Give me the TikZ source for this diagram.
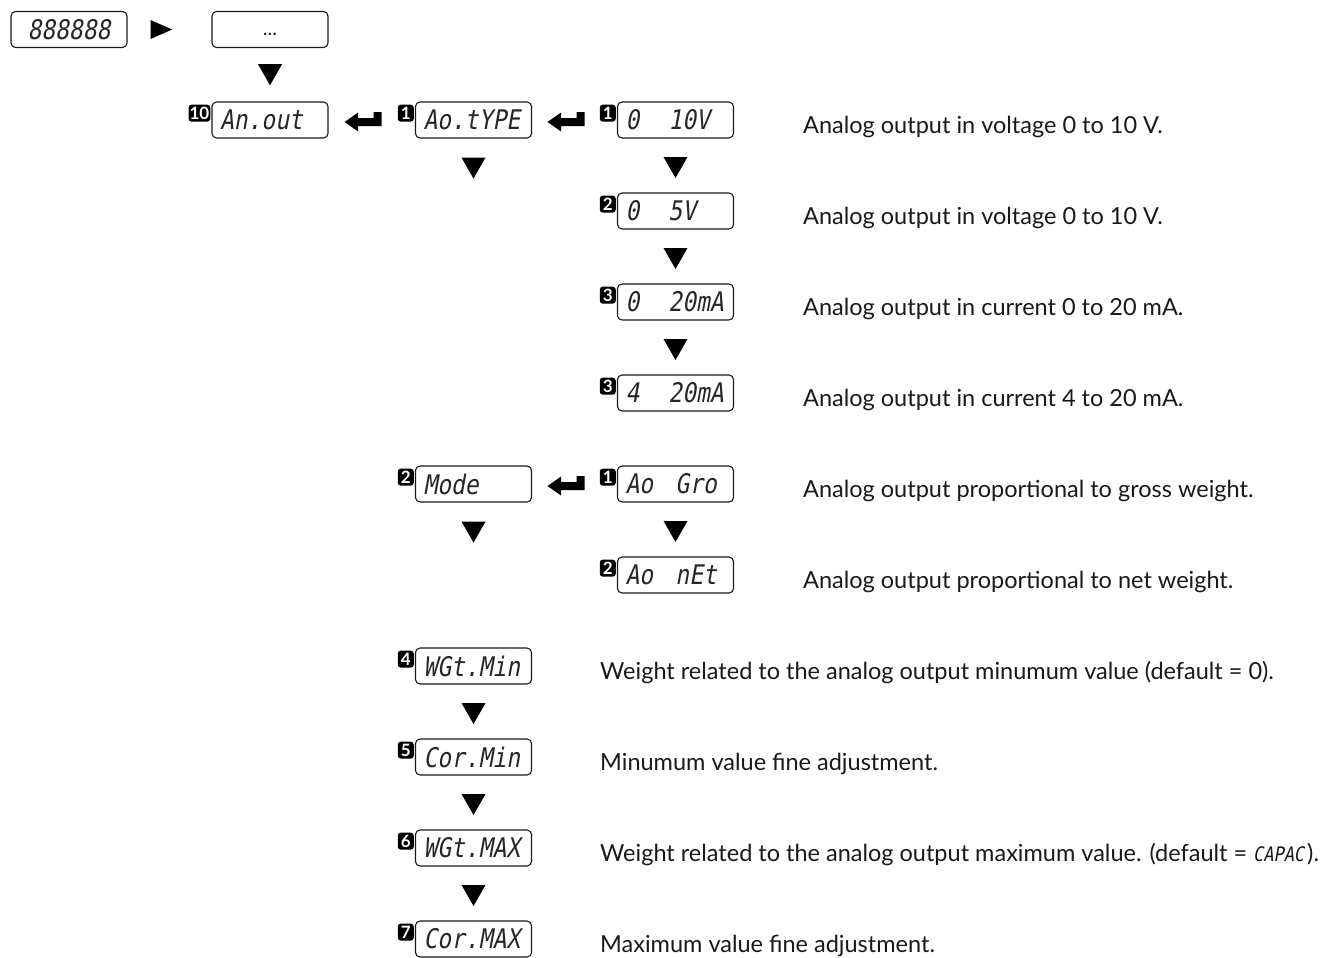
\documentclass[tikz,border=0pt]{standalone}
\usepackage{fontspec}
\setmainfont{Lato}
\newfontfamily\seg[FakeSlant=0.18,FakeStretch=0.85]{DejaVu Sans Mono}
\usetikzlibrary{calc}
\begin{document}
\begin{tikzpicture}[x=1pt,y=-1pt]
\useasboundingbox (0,0) rectangle (1333,958);
\tikzset{
 dispbase/.style={draw=black!90, line width=1.1pt, rounded corners=4.5pt, minimum width=116pt, minimum height=36pt, inner sep=0pt, font=\seg\fontsize{27}{27}\selectfont, text=black!85},
 disp/.style={dispbase, text width=100pt, align=left},
 dispc/.style={dispbase, align=center},
 badge/.style={fill=black, rounded corners=3pt, text=white, font=\bfseries\fontsize{17}{17}\selectfont, inner xsep=1pt, inner ysep=0.5pt, minimum width=16pt, minimum height=17pt, anchor=north east},
 desc/.style={anchor=base west, font=\fontsize{23.5}{23.5}\selectfont, text=black!90, inner sep=0pt},
 dtri/.pic={\fill[black] (-12,-10.5) -- (12,-10.5) -- (0,10.5) -- cycle;},
 rtri/.pic={\fill[black] (-10.5,-9.5) -- (11,0) -- (-10.5,9.5) -- cycle;},
 retarrow/.pic={\fill[black] (-18.5,2) -- (-5,-7.5) -- (-5,-2) -- (10.5,-2) -- (10.5,-8) -- (18.5,-8) -- (18.5,6) -- (-5,6) -- (-5,11.5) -- cycle;},
}
\newcommand\badgeat[3]{\node[badge] (#1) at ([xshift=-1pt,yshift=-3pt]#2.north west) {#3};}
\newcommand\gap[2]{\makebox[#1][l]{#2}}

% top row
\node[dispc] (start) at (69,29.5) {888888};
\node[dispc, font=\fontsize{20}{20}\selectfont, text height=12pt, text depth=0pt] (dots) at (270,29.5) {...};
\pic at ($(start.east)!0.4!(dots.west)$) {rtri};

% column nodes
\node[disp] (anout) at (270,120) {An.out};
\node[disp] (aotype) at (473.5,120) {Ao.tYPE};
\node[disp] (v10) at (675.5,120) {\gap{43pt}{0}10V};
\node[disp] (v5) at (675.5,211) {\gap{43pt}{0}5V};
\node[disp] (ma20) at (675.5,302) {\gap{43pt}{0}20mA};
\node[disp] (ma420) at (675.5,393) {\gap{43pt}{4}20mA};
\node[disp] (mode) at (473.5,484) {Mode};
\node[disp] (gro) at (675.5,484) {\gap{50pt}{Ao}Gro};
\node[disp] (net) at (675.5,575) {\gap{50pt}{Ao}nEt};
\node[disp] (wmin) at (473.5,666) {WGt.Min};
\node[disp] (cmin) at (473.5,757) {Cor.Min};
\node[disp] (wmax) at (473.5,848) {WGt.MAX};
\node[disp] (cmax) at (473.5,939) {Cor.MAX};

% badges
\badgeat{b-anout}{anout}{10}
\badgeat{b-aotype}{aotype}{1}
\badgeat{b-v10}{v10}{1}
\badgeat{b-v5}{v5}{2}
\badgeat{b-ma20}{ma20}{3}
\badgeat{b-ma420}{ma420}{3}
\badgeat{b-mode}{mode}{2}
\badgeat{b-gro}{gro}{1}
\badgeat{b-net}{net}{2}
\badgeat{b-wmin}{wmin}{4}
\badgeat{b-cmin}{cmin}{5}
\badgeat{b-wmax}{wmax}{6}
\badgeat{b-cmax}{cmax}{7}

% down triangles
\pic at ($(dots.south)!0.5!(anout.north)$) {dtri};
\pic at ($(aotype.south)+(0,29.5)$) {dtri};
\pic at ($(v10.south)!0.5!(v5.north)+(0,2)$) {dtri};
\pic at ($(v5.south)!0.5!(ma20.north)+(0,2)$) {dtri};
\pic at ($(ma20.south)!0.5!(ma420.north)+(0,2)$) {dtri};
\pic at ($(mode.south)+(0,29.5)$) {dtri};
\pic at ($(gro.south)!0.5!(net.north)+(0,2)$) {dtri};
\pic at ($(wmin.south)!0.5!(cmin.north)+(0,2)$) {dtri};
\pic at ($(cmin.south)!0.5!(wmax.north)+(0,2)$) {dtri};
\pic at ($(wmax.south)!0.5!(cmax.north)+(0,2)$) {dtri};

% return arrows
\pic at ($(anout.east)!0.4!(aotype.west)$) {retarrow};
\pic at ($(aotype.east)!0.4!(v10.west)$) {retarrow};
\pic at ($(mode.east)!0.4!(gro.west)$) {retarrow};

% descriptions
\node[desc] (d1) at (803,133) {Analog output in voltage 0 to 10 V.};
\node[desc] (d2) at (803,224) {Analog output in voltage 0 to 10 V.};
\node[desc] (d3) at (803,315) {Analog output in current 0 to 20 mA.};
\node[desc] (d4) at (803,406) {Analog output in current 4 to 20 mA.};
\node[desc] (d5) at (803,497) {Analog output proportional to gross weight.};
\node[desc] (d6) at (803,588) {Analog output proportional to net weight.};
\node[desc] (d7) at (600,679) {Weight related to the analog output minumum value (default = 0).};
\node[desc] (d8) at (600,770) {Minumum value fine adjustment.};
\node[desc] (d9) at (600,861) {Weight related to the analog output maximum value. (default = {\seg\fontsize{20}{20}\selectfont CAPAC}\kern3pt).};
\node[desc] (d10) at (600,952) {Maximum value fine adjustment.};
\end{tikzpicture}
\end{document}
